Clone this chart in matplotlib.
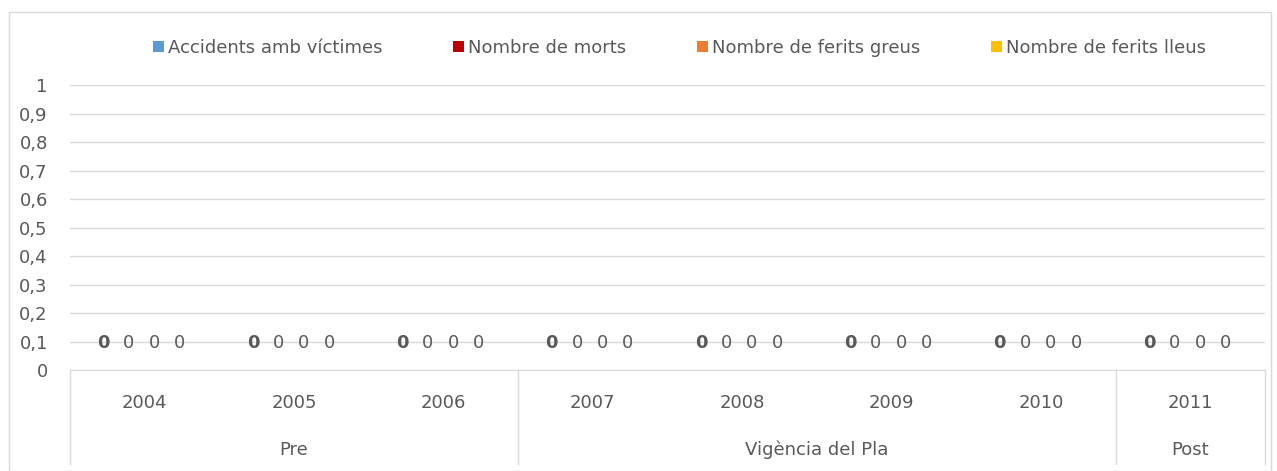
import numpy as np
import matplotlib.pyplot as plt
from matplotlib.patches import Rectangle
from matplotlib.ticker import FuncFormatter
import matplotlib.transforms as mtransforms

plt.rcParams["font.family"] = "DejaVu Sans"

# --------------------------------------------------------------
# Data
# --------------------------------------------------------------
years = ["2004", "2005", "2006", "2007", "2008", "2009", "2010", "2011"]
periods = ["Pre", "Vigència del Pla", "Post"]
period_sizes = [3, 4, 1]

series_names = ["Accidents amb víctimes", "Nombre de morts",
                "Nombre de ferits greus", "Nombre de ferits lleus"]
accidents = [0, 0, 0, 0, 0, 0, 0, 0]
morts = [0, 0, 0, 0, 0, 0, 0, 0]
ferits_greus = [0, 0, 0, 0, 0, 0, 0, 0]
ferits_lleus = [0, 0, 0, 0, 0, 0, 0, 0]

colors = ["#5B9BD5", "#C00000", "#ED7D31", "#FFC000"]
text_col = "#595959"
grid_col = "#D9D9D9"
fs = 13

# --------------------------------------------------------------
# Plot
# --------------------------------------------------------------
fig = plt.figure(figsize=(12.77, 4.71), dpi=100)
ax = fig.add_axes([0.0548, 0.2144, 0.9358, 0.6051])

x = np.arange(len(years))
width = 0.17
all_series = [accidents, morts, ferits_greus, ferits_lleus]
for i, (vals, name, c) in enumerate(zip(all_series, series_names, colors)):
    bars = ax.bar(x + (i - 1.5) * width - 0.02, vals, width, color=c, label=name)
    ax.bar_label(bars, padding=13, fontsize=fs, color=text_col,
                 fontweight="bold" if i == 0 else "normal")

ax.set_xlim(-0.5, len(years) - 0.5)
ax.set_ylim(0, 1)
ax.set_yticks(np.arange(0, 1.01, 0.1))
ax.yaxis.set_major_formatter(FuncFormatter(
    lambda v, p: "0" if abs(v) < 1e-9 else ("1" if abs(v - 1) < 1e-9 else f"{v:.1f}".replace(".", ","))))
ax.tick_params(axis="y", length=0, pad=16, labelsize=fs, labelcolor=text_col)
ax.tick_params(axis="x", length=0, labelbottom=False)
ax.grid(axis="y", color=grid_col, linewidth=1)
ax.set_axisbelow(True)
for s in ["top", "right", "left"]:
    ax.spines[s].set_visible(False)
ax.spines["bottom"].set_color(grid_col)

# category axis labels
trans = mtransforms.blended_transform_factory(ax.transData, ax.transAxes)
for xi, yr in zip(x, years):
    ax.text(xi, -0.115, yr, transform=trans, ha="center", va="center",
            fontsize=fs, color=text_col)
start = 0
edges = [-0.5]
for name, n in zip(periods, period_sizes):
    ax.text(start + (n - 1) / 2, -0.28, name, transform=trans, ha="center",
            va="center", fontsize=fs, color=text_col)
    start += n
    edges.append(start - 0.5)
for e in edges:
    ax.plot([e, e], [0, -0.33], transform=trans, color=grid_col,
            linewidth=1, clip_on=False)

leg = ax.legend(loc="center", bbox_to_anchor=(0.51, 1.13), ncol=4, frameon=False,
                fontsize=fs, handlelength=0.6, handleheight=0.6, handletextpad=0.2,
                columnspacing=3.95, labelcolor=text_col)

# outer chart border
fig.patches.append(Rectangle((0.007, 0.0), 0.988, 0.975, transform=fig.transFigure,
                             fill=False, edgecolor=grid_col, linewidth=1))

fig.savefig("out.png", dpi=100)
